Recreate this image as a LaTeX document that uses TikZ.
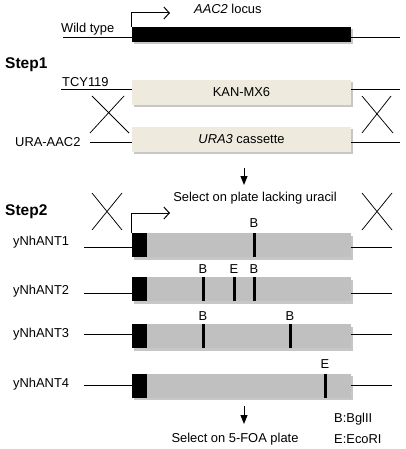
\documentclass[tikz,border=0pt]{standalone}
\usepackage{fontspec}
\setmainfont{Liberation Sans}
\usetikzlibrary{arrows.meta,shadows}
\definecolor{beige}{HTML}{EEEBDE}
\definecolor{boxgrey}{HTML}{C0C0C0}
\begin{document}
\begin{tikzpicture}[x=1pt,y=-1pt,
  lbl/.style={font=\fontsize{12.9}{14}\selectfont, inner sep=0, anchor=base west},
  sitelbl/.style={font=\fontsize{12.9}{14}\selectfont, inner sep=0, anchor=base},
  steplbl/.style={font=\fontsize{15.5}{18}\selectfont\bfseries, inner sep=0, anchor=base west},
  shade/.style={drop shadow={shadow xshift=2pt,shadow yshift=-2.5pt,opacity=0.22,fill=black}},
  cassette/.style={fill=beige, shade, inner sep=0, minimum width=219pt, minimum height=25pt, font=\fontsize{12.9}{14}\selectfont},
  orf/.style={fill=boxgrey, shade, inner sep=0, minimum width=219pt, minimum height=24pt},
  blk/.style={fill=black, inner sep=0, minimum width=15pt, minimum height=24pt},
  site/.style={fill=black, inner sep=0, minimum width=3pt, minimum height=24pt},
  dna/.style={line width=0.9pt},
  xmark/.style={line width=0.75pt},
  promoter/.style={line width=1pt, -{Straight Barb[length=5.5pt,width=12pt]}},
  down/.style={line width=1pt, -{Triangle[length=9pt,width=7pt]}}]
\useasboundingbox (0,0) rectangle (406,449);

% ---------- Wild type ----------
\coordinate (wtL) at (63,37);
\coordinate (wtR) at (400,37);
\node[fill=black, shade, inner sep=0, minimum width=219pt, minimum height=15pt] (wt) at (241.5,34.5) {};
\draw[dna] (wtL) -- (wtL -| wt.west);
\draw[dna] (wt.east |- wtR) -- (wtR);
\coordinate (wtArr) at (170,13);
\draw[promoter] (wt.north west) |- (wtArr);
\node[lbl] (wtlbl) at (61,32.5) {Wild type};
\node[lbl] (locus) at (194,14) {\textit{AAC2} locus};

% ---------- Step 1 ----------
\node[steplbl] (step1) at (5,69) {Step1};

\node[cassette] (kan) at (241.5,92.5) {KAN-MX6};
\coordinate (tcyL) at (61,89);
\coordinate (tcyR) at (400,89);
\draw[dna] (tcyL) -- (tcyL -| kan.west);
\draw[dna] (kan.east |- tcyR) -- (tcyR);
\node[lbl] (tcy) at (62,87) {TCY119};

\node[cassette] (ura) at (241.5,139.5) {\textit{URA3} cassette};
\coordinate (uraL) at (90,142);
\coordinate (uraR) at (400,142);
\draw[dna] (uraL) -- (uraL -| ura.west);
\draw[dna] (ura.east |- uraR) -- (uraR);
\node[lbl] (uralbl) at (15,146.5) {URA-AAC2};

\draw[xmark] (92,96) -- (129,133) (124,96) -- (90,133);
\draw[xmark] (362,96) -- (393,133) (391,96) -- (362,133);

\coordinate (arr1s) at (244,168);
\coordinate (arr1e) at (244,185);
\draw[down] (arr1s) -- (arr1e);
\node[sitelbl] (sel1) at (255,201) {Select on plate lacking uracil};

% ---------- Step 2 ----------
\node[steplbl] (step2) at (5,215) {Step2};
\draw[xmark] (92,193) -- (122,230) (122,193) -- (92,230);
\draw[xmark] (362,193) -- (392,230) (392,193) -- (362,230);

% yNhANT1
\node[orf] (ant1) at (241.5,245) {};
\node[blk] (ant1b) at (139.5,245) {};
\coordinate (a1L) at (84,247);
\coordinate (a1R) at (392,247);
\draw[dna] (a1L) -- (a1L -| ant1.west);
\draw[dna] (ant1.east |- a1R) -- (a1R);
\coordinate (a1arr) at (170,213);
\draw[promoter] (ant1.north west) |- (a1arr);
\node[site] (s11) at (254,245) {};
\node[sitelbl] at (254,227) {B};
\node[lbl] (l1) at (13,245.5) {yNhANT1};

% yNhANT2
\node[orf] (ant2) at (241.5,289) {};
\node[blk] (ant2b) at (139.5,289) {};
\coordinate (a2L) at (84,293);
\coordinate (a2R) at (392,293);
\draw[dna] (a2L) -- (a2L -| ant2.west);
\draw[dna] (ant2.east |- a2R) -- (a2R);
\node[site] (s21) at (203,289) {};
\node[site] (s22) at (234,289) {};
\node[site] (s23) at (254,289) {};
\node[sitelbl] at (203,273) {B};
\node[sitelbl] at (234,273) {E};
\node[sitelbl] at (254,273) {B};
\node[lbl] (l2) at (13,294) {yNhANT2};

% yNhANT3
\node[orf] (ant3) at (241.5,336) {};
\node[blk] (ant3b) at (139.5,336) {};
\coordinate (a3L) at (84,334);
\coordinate (a3R) at (392,334);
\draw[dna] (a3L) -- (a3L -| ant3.west);
\draw[dna] (ant3.east |- a3R) -- (a3R);
\node[site] (s31) at (203,336) {};
\node[site] (s32) at (290,336) {};
\node[sitelbl] at (203,320) {B};
\node[sitelbl] at (290,320) {B};
\node[lbl] (l3) at (13,337) {yNhANT3};

% yNhANT4
\node[orf] (ant4) at (241.5,385.5) {};
\node[blk] (ant4b) at (139.5,385.5) {};
\coordinate (a4L) at (84,385);
\coordinate (a4R) at (392,385);
\draw[dna] (a4L) -- (a4L -| ant4.west);
\draw[dna] (ant4.east |- a4R) -- (a4R);
\node[site] (s41) at (325,385.5) {};
\node[sitelbl] at (325,368) {E};
\node[lbl] (l4) at (13,387) {yNhANT4};

\coordinate (arr2s) at (244,406);
\coordinate (arr2e) at (244,424);
\draw[down] (arr2s) -- (arr2e);
\node[sitelbl] (sel2) at (235,442) {Select on 5-FOA plate};

\node[lbl] (keyB) at (334,422) {B:BglII};
\node[lbl] (keyE) at (334,443) {E:EcoRI};
\end{tikzpicture}
\end{document}
